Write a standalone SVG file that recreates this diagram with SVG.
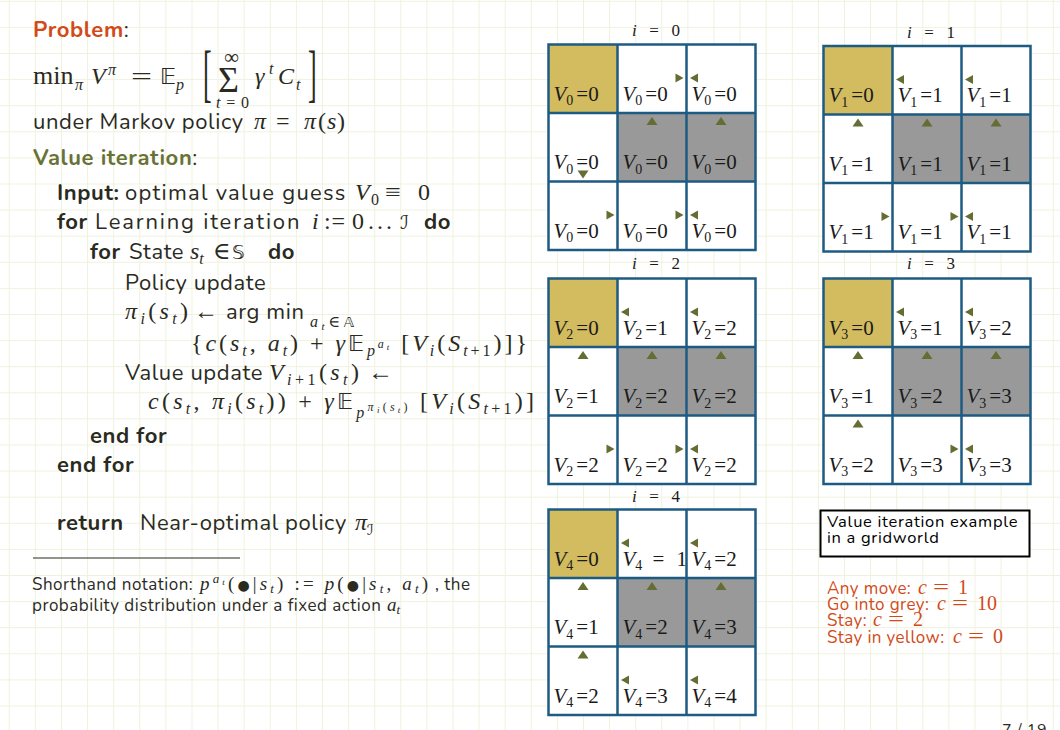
<svg xmlns="http://www.w3.org/2000/svg" width="1060" height="730" viewBox="0 0 1060 730">
<style>
.s{font-family:'Nunito','Open Sans','Liberation Sans',sans-serif;fill:#2a2a1e;letter-spacing:0.6px}
.b{font-weight:bold}
.m{font-family:'Liberation Serif','DejaVu Serif',serif;fill:#2a2a1e;letter-spacing:0}
.i{font-style:italic}
.bb{font-family:'DejaVu Sans','DejaVu Serif',sans-serif;font-style:normal}
.or{fill:#d14a18}
.ol{fill:#687236}
.cell{font-family:'Liberation Serif','DejaVu Serif',serif;fill:#1a1a1a}
.ttl{font-family:'Liberation Serif','DejaVu Serif',serif;fill:#1a1a1a}
.gl{fill:none;stroke:#1e5b82;stroke-width:2.5}
.arr{fill:#656d32}
.ls4{letter-spacing:0.4px}
</style>
<defs>
<pattern id="bg" width="26.1" height="26.1" patternUnits="userSpaceOnUse" x="8.8" y="0.8">
<path d="M0,0.5 H26.1 M0.5,0 V26.1" stroke="#eef2dc" stroke-width="1" fill="none"/>
</pattern>
<path id="aR" class="arr" d="M-4,-4.5 L4,0 L-4,4.5 Z"/>
<path id="aL" class="arr" d="M4,-4.5 L-4,0 L4,4.5 Z"/>
<path id="aU" class="arr" d="M-5.5,4 L0,-4 L5.5,4 Z"/>
<path id="aD" class="arr" d="M-5.5,-4 L0,4 L5.5,-4 Z"/>
</defs>
<rect width="1060" height="730" fill="#ffffff"/>
<rect width="1060" height="730" fill="url(#bg)"/>

<g id="left-text" font-size="22">
<text class="s" x="33" y="37"><tspan class="b or">Problem</tspan>:</text>
<g id="objective" font-size="24">
<text class="m" x="33" y="84" font-size="26">min</text>
<text class="m i" x="75" y="90" font-size="16">π</text>
<text class="m i" x="91" y="84">V</text>
<text class="m i" x="108" y="75" font-size="16">π</text>
<text class="m" x="131" y="84" textLength="21" lengthAdjust="spacingAndGlyphs">=</text>
<text class="m bb" x="160" y="84" font-size="22">𝔼</text>
<text class="m i" x="176" y="90" font-size="16">p</text>
<text class="m" transform="translate(203,94) scale(1,2.45)" font-size="26">[</text>
<text class="m" x="224" y="64" font-size="21">∞</text>
<text class="m" x="218" y="92" font-size="36">Σ</text>
<text class="m" x="216" y="108" font-size="16" textLength="33"><tspan class="i">t</tspan>=0</text>
<text class="m i" x="255" y="84">γ</text>
<text class="m i" x="269" y="74" font-size="16">t</text>
<text class="m i" x="278" y="84">C</text>
<text class="m i" x="296" y="90" font-size="16">t</text>
<text class="m" transform="translate(308,94) scale(1,2.45)" font-size="26">]</text>
</g>
<text class="s" x="33" y="129">under Markov policy</text>
<text class="m" y="129" font-size="24"><tspan x="254" class="i">π</tspan><tspan x="276">=</tspan><tspan x="304" class="i">π</tspan><tspan x="318">(</tspan><tspan x="327" class="i">s</tspan><tspan x="337">)</tspan></text>
<text class="s" x="33" y="165"><tspan class="b ol">Value iteration</tspan>:</text>

<text class="s b" x="57" y="200">Input:</text>
<text class="s" x="125" y="200" textLength="221">optimal value guess</text>
<text class="m i" x="355" y="200" font-size="24">V</text>
<text class="m" x="371" y="205" font-size="16">0</text>
<text class="m" x="385" y="200" font-size="24" textLength="16" lengthAdjust="spacingAndGlyphs">≡</text>
<text class="m" x="418" y="200" font-size="24">0</text>

<text class="s b" x="57" y="229">for</text>
<text class="s" x="95" y="229" textLength="205">Learning iteration</text>
<text class="m i" x="312" y="229" font-size="24">i</text>
<text class="m" x="324" y="229" font-size="24" textLength="21">:=</text>
<text class="m" x="352" y="229" font-size="24">0</text>
<text class="m" x="368" y="229" font-size="24" textLength="24">. . .</text>
<text class="m bb i" x="400" y="229" font-size="19">ℐ</text>
<text class="s b" x="424" y="229">do</text>

<text class="s b" x="90" y="259">for</text>
<text class="s" x="129" y="259">State</text>
<text class="m" x="190" y="259" font-size="24"><tspan class="i">s</tspan><tspan font-size="16" class="i" dy="5">t</tspan></text>
<text class="m" x="213" y="259" font-size="24">∈</text>
<text class="m bb" x="232" y="259" font-size="20">𝕊</text>
<text class="s b" x="268" y="259">do</text>

<text class="s" x="125" y="290">Policy update</text>

<text class="m" x="125" y="319" font-size="24" textLength="63"><tspan class="i">π</tspan><tspan font-size="16" class="i" dy="5">i</tspan><tspan dy="-5">(</tspan><tspan class="i">s</tspan><tspan font-size="16" class="i" dy="5">t</tspan><tspan dy="-5">)</tspan></text>
<text class="m" x="194" y="319" font-size="24" textLength="24" lengthAdjust="spacingAndGlyphs">←</text>
<text class="s" x="226" y="319">arg min</text>
<text class="m" x="310" y="327" font-size="16" textLength="44"><tspan class="i">a</tspan><tspan font-size="11" class="i" dy="3">t</tspan><tspan dy="-3">∈</tspan><tspan class="bb" font-size="14">𝔸</tspan></text>

<text class="m" x="191" y="351" font-size="24" textLength="336">{<tspan class="i">c</tspan>(<tspan class="i">s</tspan><tspan font-size="16" class="i" dy="5">t</tspan><tspan dy="-5">, </tspan><tspan class="i">a</tspan><tspan font-size="16" class="i" dy="5">t</tspan><tspan dy="-5">) + </tspan><tspan class="i">γ</tspan><tspan class="bb" font-size="22">𝔼</tspan><tspan font-size="16" class="i" dy="5">p</tspan><tspan font-size="12" class="i" dy="-8">a</tspan><tspan font-size="9" class="i" dy="2">t</tspan><tspan dy="1"> [</tspan><tspan class="i">V</tspan><tspan font-size="16" class="i" dy="5">i</tspan><tspan dy="-5">(</tspan><tspan class="i">S</tspan><tspan font-size="16" dy="5"><tspan class="i">t</tspan>+1</tspan><tspan dy="-5">)]}</tspan></text>

<text class="s" x="125" y="380">Value update</text>
<text class="m" x="269" y="380" font-size="24" textLength="90"><tspan class="i">V</tspan><tspan font-size="16" dy="5"><tspan class="i">i</tspan>+1</tspan><tspan dy="-5">(</tspan><tspan class="i">s</tspan><tspan font-size="16" class="i" dy="5">t</tspan><tspan dy="-5">)</tspan></text>
<text class="m" x="368" y="380" font-size="24" textLength="25" lengthAdjust="spacingAndGlyphs">←</text>

<text class="m" x="148" y="409" font-size="24" textLength="386"><tspan class="i">c</tspan>(<tspan class="i">s</tspan><tspan font-size="16" class="i" dy="5">t</tspan><tspan dy="-5">, </tspan><tspan class="i">π</tspan><tspan font-size="16" class="i" dy="5">i</tspan><tspan dy="-5">(</tspan><tspan class="i">s</tspan><tspan font-size="16" class="i" dy="5">t</tspan><tspan dy="-5">)) + </tspan><tspan class="i">γ</tspan><tspan class="bb" font-size="22">𝔼</tspan><tspan font-size="16" class="i" dy="9">p</tspan><tspan font-size="12" dy="-7"><tspan class="i">π</tspan><tspan font-size="9" class="i" dy="2">i</tspan><tspan dy="-2">(</tspan><tspan class="i">s</tspan><tspan font-size="9" class="i" dy="2">t</tspan><tspan dy="-2">)</tspan></tspan><tspan dy="-2"> [</tspan><tspan class="i">V</tspan><tspan font-size="16" class="i" dy="5">i</tspan><tspan dy="-5">(</tspan><tspan class="i">S</tspan><tspan font-size="16" dy="5"><tspan class="i">t</tspan>+1</tspan><tspan dy="-5">)]</tspan></text>

<text class="s b" x="90" y="443">end for</text>
<text class="s b" x="57" y="472">end for</text>

<text class="s b" x="57" y="530">return</text>
<text class="s" x="140" y="530">Near-optimal policy</text>
<text class="m" x="355" y="530" font-size="24"><tspan class="i">π</tspan><tspan class="bb i" font-size="15" dy="5">ℐ</tspan></text>

<line x1="33" y1="558" x2="240" y2="558" stroke="#2a2a1e" stroke-width="1.2"/>
<text class="s" x="32" y="590" font-size="17" style="letter-spacing:0.5px">Shorthand notation:</text>
<text class="m" x="200" y="590" font-size="19" textLength="228"><tspan class="i">p</tspan><tspan font-size="13" class="i" dy="-7">a</tspan><tspan font-size="9" class="i" dy="2">t</tspan><tspan dy="5">(</tspan><tspan class="bb" font-size="14">●</tspan>|<tspan class="i">s</tspan><tspan font-size="13" class="i" dy="3">t</tspan><tspan dy="-3">) := </tspan><tspan class="i">p</tspan>(<tspan class="bb" font-size="14">●</tspan>|<tspan class="i">s</tspan><tspan font-size="13" class="i" dy="3">t</tspan><tspan dy="-3">, </tspan><tspan class="i">a</tspan><tspan font-size="13" class="i" dy="3">t</tspan><tspan dy="-3">)</tspan></text>
<text class="s" x="435" y="590" font-size="17" style="letter-spacing:0.5px">, the</text>
<text class="s" x="32" y="611" font-size="17" style="letter-spacing:0.5px">probability distribution under a fixed action</text>
<text class="m" x="387" y="611" font-size="19"><tspan class="i">a</tspan><tspan font-size="13" class="i" dy="3">t</tspan></text>
</g>

<g id="grid-i0" transform="translate(548.5,44.5)">
<rect width="207" height="205.5" fill="#ffffff"/>
<rect width="69" height="68.5" fill="#d3bc5f"/>
<rect x="69" y="68.5" width="138" height="68.5" fill="#999999"/>
<text class="ttl" x="83.5" y="-9" font-size="17" textLength="48"><tspan class="i">i</tspan> = 0</text>
<g class="cell" font-size="21">
<text x="5" y="56"><tspan class="i">V</tspan><tspan font-size="14" dy="4.5">0</tspan><tspan dy="-4.5" dx="3">=0</tspan></text>
<text x="74" y="56"><tspan class="i">V</tspan><tspan font-size="14" dy="4.5">0</tspan><tspan dy="-4.5" dx="3">=0</tspan></text>
<text x="143" y="56"><tspan class="i">V</tspan><tspan font-size="14" dy="4.5">0</tspan><tspan dy="-4.5" dx="3">=0</tspan></text>
<text x="5" y="124.5"><tspan class="i">V</tspan><tspan font-size="14" dy="4.5">0</tspan><tspan dy="-4.5" dx="3">=0</tspan></text>
<text x="74" y="124.5"><tspan class="i">V</tspan><tspan font-size="14" dy="4.5">0</tspan><tspan dy="-4.5" dx="3">=0</tspan></text>
<text x="143" y="124.5"><tspan class="i">V</tspan><tspan font-size="14" dy="4.5">0</tspan><tspan dy="-4.5" dx="3">=0</tspan></text>
<text x="5" y="193"><tspan class="i">V</tspan><tspan font-size="14" dy="4.5">0</tspan><tspan dy="-4.5" dx="3">=0</tspan></text>
<text x="74" y="193"><tspan class="i">V</tspan><tspan font-size="14" dy="4.5">0</tspan><tspan dy="-4.5" dx="3">=0</tspan></text>
<text x="143" y="193"><tspan class="i">V</tspan><tspan font-size="14" dy="4.5">0</tspan><tspan dy="-4.5" dx="3">=0</tspan></text>
</g>
<rect class="gl" width="207" height="205.5"/>
<path class="gl" d="M69,0 V205.5 M138,0 V205.5 M0,68.5 H207 M0,137 H207"/>
<use href="#aR" x="131" y="33.5"/><use href="#aL" x="145.5" y="33.5"/>
<use href="#aU" x="103.5" y="76.5"/><use href="#aU" x="172.5" y="76.5"/>
<use href="#aD" x="34.5" y="130"/>
<use href="#aR" x="62" y="170.5"/><use href="#aR" x="131" y="170.5"/><use href="#aL" x="145.5" y="170.5"/>
</g>

<g id="grid-i1" transform="translate(823.5,46)">
<rect width="207" height="205.5" fill="#ffffff"/>
<rect width="69" height="68.5" fill="#d3bc5f"/>
<rect x="69" y="68.5" width="138" height="68.5" fill="#999999"/>
<text class="ttl" x="83.5" y="-8.5" font-size="17" textLength="48"><tspan class="i">i</tspan> = 1</text>
<g class="cell" font-size="21">
<text x="5" y="56"><tspan class="i">V</tspan><tspan font-size="14" dy="4.5">1</tspan><tspan dy="-4.5" dx="3">=0</tspan></text>
<text x="74" y="56"><tspan class="i">V</tspan><tspan font-size="14" dy="4.5">1</tspan><tspan dy="-4.5" dx="3">=1</tspan></text>
<text x="143" y="56"><tspan class="i">V</tspan><tspan font-size="14" dy="4.5">1</tspan><tspan dy="-4.5" dx="3">=1</tspan></text>
<text x="5" y="124.5"><tspan class="i">V</tspan><tspan font-size="14" dy="4.5">1</tspan><tspan dy="-4.5" dx="3">=1</tspan></text>
<text x="74" y="124.5"><tspan class="i">V</tspan><tspan font-size="14" dy="4.5">1</tspan><tspan dy="-4.5" dx="3">=1</tspan></text>
<text x="143" y="124.5"><tspan class="i">V</tspan><tspan font-size="14" dy="4.5">1</tspan><tspan dy="-4.5" dx="3">=1</tspan></text>
<text x="5" y="193"><tspan class="i">V</tspan><tspan font-size="14" dy="4.5">1</tspan><tspan dy="-4.5" dx="3">=1</tspan></text>
<text x="74" y="193"><tspan class="i">V</tspan><tspan font-size="14" dy="4.5">1</tspan><tspan dy="-4.5" dx="3">=1</tspan></text>
<text x="143" y="193"><tspan class="i">V</tspan><tspan font-size="14" dy="4.5">1</tspan><tspan dy="-4.5" dx="3">=1</tspan></text>
</g>
<rect class="gl" width="207" height="205.5"/>
<path class="gl" d="M69,0 V205.5 M138,0 V205.5 M0,68.5 H207 M0,137 H207"/>
<use href="#aL" x="76.5" y="33.5"/><use href="#aL" x="145.5" y="33.5"/>
<use href="#aU" x="34.5" y="76.5"/><use href="#aU" x="103.5" y="76.5"/><use href="#aU" x="172.5" y="76.5"/>
<use href="#aR" x="62" y="170.5"/><use href="#aR" x="131" y="170.5"/><use href="#aL" x="145.5" y="170.5"/>
</g>

<g id="grid-i2" transform="translate(548.5,278.5)">
<rect width="207" height="205.5" fill="#ffffff"/>
<rect width="69" height="68.5" fill="#d3bc5f"/>
<rect x="69" y="68.5" width="138" height="68.5" fill="#999999"/>
<text class="ttl" x="83.5" y="-9.5" font-size="17" textLength="48"><tspan class="i">i</tspan> = 2</text>
<g class="cell" font-size="21">
<text x="5" y="56"><tspan class="i">V</tspan><tspan font-size="14" dy="4.5">2</tspan><tspan dy="-4.5" dx="3">=0</tspan></text>
<text x="74" y="56"><tspan class="i">V</tspan><tspan font-size="14" dy="4.5">2</tspan><tspan dy="-4.5" dx="3">=1</tspan></text>
<text x="143" y="56"><tspan class="i">V</tspan><tspan font-size="14" dy="4.5">2</tspan><tspan dy="-4.5" dx="3">=2</tspan></text>
<text x="5" y="124.5"><tspan class="i">V</tspan><tspan font-size="14" dy="4.5">2</tspan><tspan dy="-4.5" dx="3">=1</tspan></text>
<text x="74" y="124.5"><tspan class="i">V</tspan><tspan font-size="14" dy="4.5">2</tspan><tspan dy="-4.5" dx="3">=2</tspan></text>
<text x="143" y="124.5"><tspan class="i">V</tspan><tspan font-size="14" dy="4.5">2</tspan><tspan dy="-4.5" dx="3">=2</tspan></text>
<text x="5" y="193"><tspan class="i">V</tspan><tspan font-size="14" dy="4.5">2</tspan><tspan dy="-4.5" dx="3">=2</tspan></text>
<text x="74" y="193"><tspan class="i">V</tspan><tspan font-size="14" dy="4.5">2</tspan><tspan dy="-4.5" dx="3">=2</tspan></text>
<text x="143" y="193"><tspan class="i">V</tspan><tspan font-size="14" dy="4.5">2</tspan><tspan dy="-4.5" dx="3">=2</tspan></text>
</g>
<rect class="gl" width="207" height="205.5"/>
<path class="gl" d="M69,0 V205.5 M138,0 V205.5 M0,68.5 H207 M0,137 H207"/>
<use href="#aL" x="76.5" y="33.5"/><use href="#aL" x="145.5" y="33.5"/>
<use href="#aU" x="34.5" y="76.5"/><use href="#aU" x="103.5" y="76.5"/><use href="#aU" x="172.5" y="76.5"/>
<use href="#aR" x="62" y="170.5"/><use href="#aR" x="131" y="170.5"/><use href="#aL" x="145.5" y="170.5"/>
</g>

<g id="grid-i3" transform="translate(823.5,278.5)">
<rect width="207" height="205.5" fill="#ffffff"/>
<rect width="69" height="68.5" fill="#d3bc5f"/>
<rect x="69" y="68.5" width="138" height="68.5" fill="#999999"/>
<text class="ttl" x="83.5" y="-9.5" font-size="17" textLength="48"><tspan class="i">i</tspan> = 3</text>
<g class="cell" font-size="21">
<text x="5" y="56"><tspan class="i">V</tspan><tspan font-size="14" dy="4.5">3</tspan><tspan dy="-4.5" dx="3">=0</tspan></text>
<text x="74" y="56"><tspan class="i">V</tspan><tspan font-size="14" dy="4.5">3</tspan><tspan dy="-4.5" dx="3">=1</tspan></text>
<text x="143" y="56"><tspan class="i">V</tspan><tspan font-size="14" dy="4.5">3</tspan><tspan dy="-4.5" dx="3">=2</tspan></text>
<text x="5" y="124.5"><tspan class="i">V</tspan><tspan font-size="14" dy="4.5">3</tspan><tspan dy="-4.5" dx="3">=1</tspan></text>
<text x="74" y="124.5"><tspan class="i">V</tspan><tspan font-size="14" dy="4.5">3</tspan><tspan dy="-4.5" dx="3">=2</tspan></text>
<text x="143" y="124.5"><tspan class="i">V</tspan><tspan font-size="14" dy="4.5">3</tspan><tspan dy="-4.5" dx="3">=3</tspan></text>
<text x="5" y="193"><tspan class="i">V</tspan><tspan font-size="14" dy="4.5">3</tspan><tspan dy="-4.5" dx="3">=2</tspan></text>
<text x="74" y="193"><tspan class="i">V</tspan><tspan font-size="14" dy="4.5">3</tspan><tspan dy="-4.5" dx="3">=3</tspan></text>
<text x="143" y="193"><tspan class="i">V</tspan><tspan font-size="14" dy="4.5">3</tspan><tspan dy="-4.5" dx="3">=3</tspan></text>
</g>
<rect class="gl" width="207" height="205.5"/>
<path class="gl" d="M69,0 V205.5 M138,0 V205.5 M0,68.5 H207 M0,137 H207"/>
<use href="#aL" x="76.5" y="33.5"/><use href="#aL" x="145.5" y="33.5"/>
<use href="#aU" x="34.5" y="76.5"/><use href="#aU" x="103.5" y="76.5"/><use href="#aU" x="172.5" y="76.5"/>
<use href="#aU" x="34.5" y="145"/><use href="#aR" x="131" y="170.5"/><use href="#aL" x="145.5" y="170.5"/>
</g>

<g id="grid-i4" transform="translate(548.5,509.5)">
<rect width="207" height="205.5" fill="#ffffff"/>
<rect width="69" height="68.5" fill="#d3bc5f"/>
<rect x="69" y="68.5" width="138" height="68.5" fill="#999999"/>
<text class="ttl" x="83.5" y="-7.5" font-size="17" textLength="48"><tspan class="i">i</tspan> = 4</text>
<g class="cell" font-size="21">
<text x="5" y="56"><tspan class="i">V</tspan><tspan font-size="14" dy="4.5">4</tspan><tspan dy="-4.5" dx="3">=0</tspan></text>
<text x="74" y="56"><tspan class="i">V</tspan><tspan font-size="14" dy="4.5">4</tspan><tspan dy="-4.5" x="104">=</tspan><tspan x="128">1</tspan></text>
<text x="143" y="56"><tspan class="i">V</tspan><tspan font-size="14" dy="4.5">4</tspan><tspan dy="-4.5" dx="3">=2</tspan></text>
<text x="5" y="124.5"><tspan class="i">V</tspan><tspan font-size="14" dy="4.5">4</tspan><tspan dy="-4.5" dx="3">=1</tspan></text>
<text x="74" y="124.5"><tspan class="i">V</tspan><tspan font-size="14" dy="4.5">4</tspan><tspan dy="-4.5" dx="3">=2</tspan></text>
<text x="143" y="124.5"><tspan class="i">V</tspan><tspan font-size="14" dy="4.5">4</tspan><tspan dy="-4.5" dx="3">=3</tspan></text>
<text x="5" y="193"><tspan class="i">V</tspan><tspan font-size="14" dy="4.5">4</tspan><tspan dy="-4.5" dx="3">=2</tspan></text>
<text x="74" y="193"><tspan class="i">V</tspan><tspan font-size="14" dy="4.5">4</tspan><tspan dy="-4.5" dx="3">=3</tspan></text>
<text x="143" y="193"><tspan class="i">V</tspan><tspan font-size="14" dy="4.5">4</tspan><tspan dy="-4.5" dx="3">=4</tspan></text>
</g>
<rect class="gl" width="207" height="205.5"/>
<path class="gl" d="M69,0 V205.5 M138,0 V205.5 M0,68.5 H207 M0,137 H207"/>
<use href="#aL" x="76.5" y="33.5"/><use href="#aL" x="145.5" y="33.5"/>
<use href="#aU" x="34.5" y="76.5"/><use href="#aU" x="103.5" y="76.5"/><use href="#aU" x="172.5" y="76.5"/>
<use href="#aU" x="34.5" y="145"/><use href="#aL" x="76.5" y="170.5"/><use href="#aL" x="145.5" y="170.5"/>
</g>

<g id="caption">
<rect x="820.5" y="510.5" width="209" height="46" fill="#ffffff" stroke="#000000" stroke-width="2"/>
<text class="s" x="827" y="527" font-size="16.5" style="letter-spacing:0.7px;fill:#000">Value iteration example</text>
<text class="s" x="827" y="543" font-size="16.5" style="letter-spacing:0.7px;fill:#000">in a gridworld</text>
</g>

<g id="costs" font-size="17">
<text class="s or ls4" x="827" y="594">Any move:</text>
<text class="m or i" x="918" y="594" font-size="20">c</text>
<text class="m or" x="933" y="594" font-size="20" textLength="16" lengthAdjust="spacingAndGlyphs">=</text>
<text class="m or" x="958" y="594" font-size="20">1</text>
<text class="s or ls4" x="827" y="610">Go into grey:</text>
<text class="m or i" x="937" y="610" font-size="20">c</text>
<text class="m or" x="952" y="610" font-size="20" textLength="16" lengthAdjust="spacingAndGlyphs">=</text>
<text class="m or" x="977" y="610" font-size="20">10</text>
<text class="s or ls4" x="827" y="626">Stay:</text>
<text class="m or i" x="873" y="626" font-size="20">c</text>
<text class="m or" x="888" y="626" font-size="20" textLength="16" lengthAdjust="spacingAndGlyphs">=</text>
<text class="m or" x="913" y="626" font-size="20">2</text>
<text class="s or ls4" x="827" y="643">Stay in yellow:</text>
<text class="m or i" x="953" y="643" font-size="20">c</text>
<text class="m or" x="968" y="643" font-size="20" textLength="16" lengthAdjust="spacingAndGlyphs">=</text>
<text class="m or" x="993" y="643" font-size="20">0</text>
</g>

<text class="s" x="1002" y="735" font-size="16">7 / 19</text>
</svg>
